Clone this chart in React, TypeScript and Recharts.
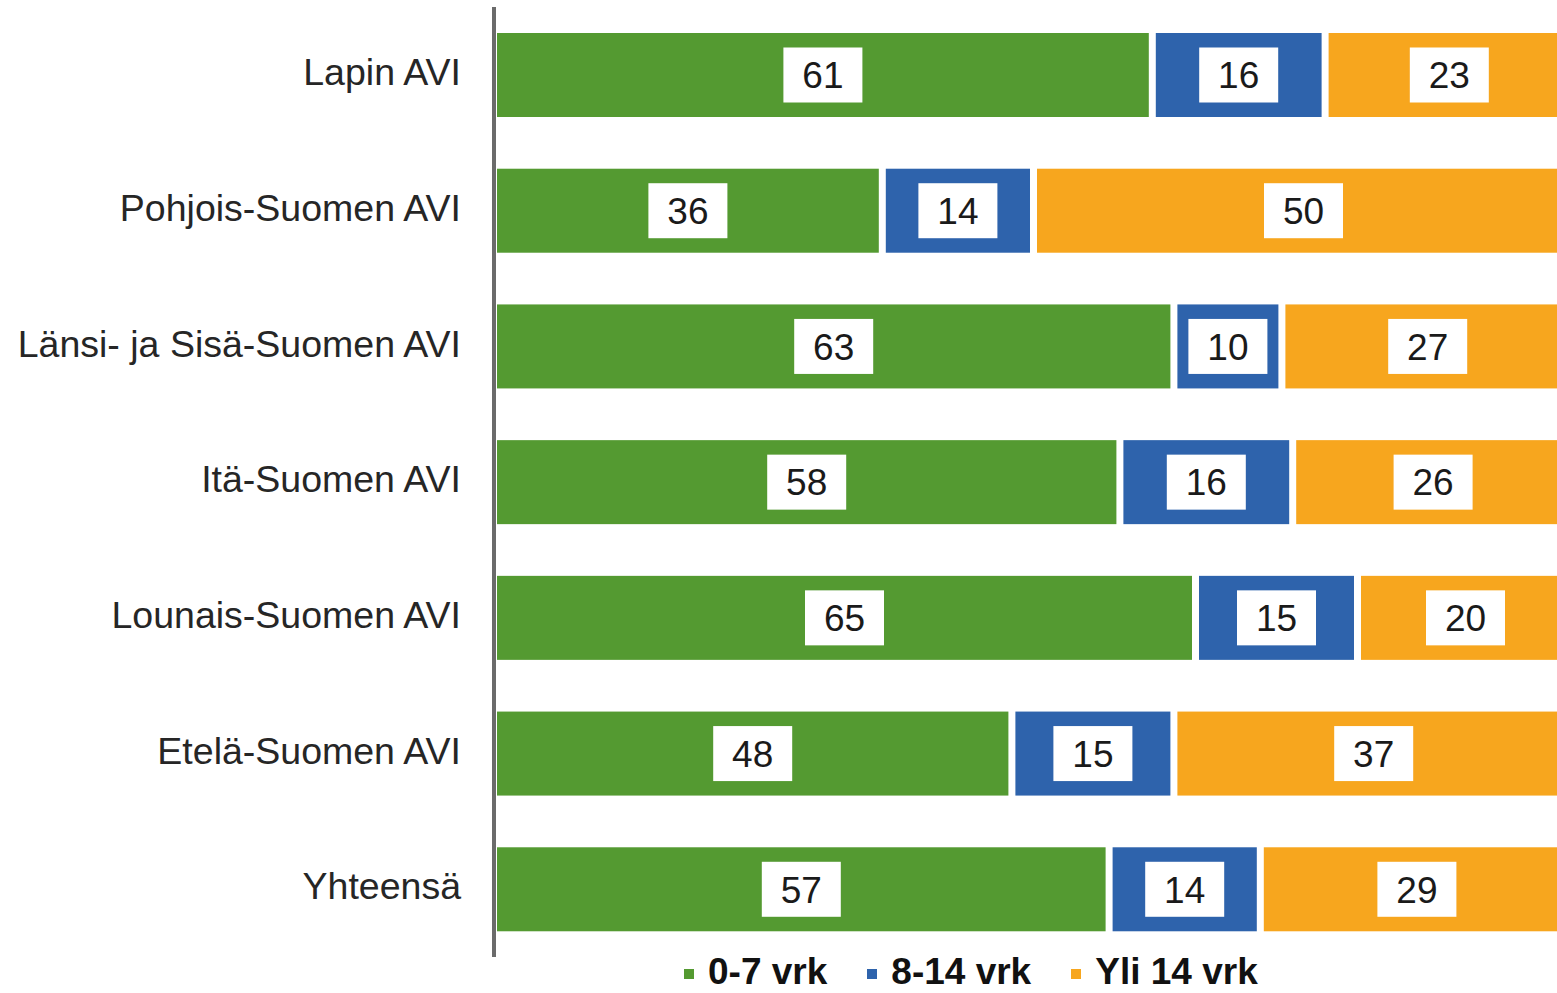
import { BarChart, Bar, XAxis, YAxis, Legend, LabelList } from "recharts";

const regions = [
  "Lapin AVI",
  "Pohjois-Suomen AVI",
  "Länsi- ja Sisä-Suomen AVI",
  "Itä-Suomen AVI",
  "Lounais-Suomen AVI",
  "Etelä-Suomen AVI",
  "Yhteensä",
];
const days0to7 = [61, 36, 63, 58, 65, 48, 57];
const days8to14 = [16, 14, 10, 16, 15, 15, 14];
const over14 = [23, 50, 27, 26, 20, 37, 29];

const series = [
  { key: "a", name: "0-7 vrk", color: "#549a31" },
  { key: "b", name: "8-14 vrk", color: "#2e63ac" },
  { key: "c", name: "Yli 14 vrk", color: "#f7a61e" },
];

const data = regions.map((region, i) => ({
  region,
  a: days0to7[i],
  b: days8to14[i],
  c: over14[i],
}));

const GAP = 7;
const FONT = "'Liberation Sans', Arial, sans-serif";

function Segment(props: any) {
  const { x, y, width, height, fill } = props;
  return <rect x={x} y={y} width={Math.max(0, width - GAP)} height={height} fill={fill} />;
}

function ValueBox(props: any) {
  const { x, y, width, height, value } = props;
  const cx = x + (width - GAP) / 2;
  const cy = y + height / 2;
  const bw = 79;
  const bh = 55;
  return (
    <g>
      <rect x={cx - bw / 2} y={cy - bh / 2} width={bw} height={bh} fill="#fff" />
      <text
        x={cx}
        y={cy}
        dy="0.36em"
        textAnchor="middle"
        fontSize={37}
        fontFamily={FONT}
        fill="#1a1a1a"
      >
        {value}
      </text>
    </g>
  );
}

function LegendContent() {
  return (
    <div
      style={{
        height: 36,
        lineHeight: "36px",
        display: "flex",
        alignItems: "center",
        fontFamily: FONT,
        fontWeight: "bold",
        fontSize: 37,
        color: "#111",
        whiteSpace: "nowrap",
      }}
    >
      {series.map((s) => (
        <div key={s.key} style={{ display: "flex", alignItems: "center", marginRight: 40 }}>
          <span
            style={{
              display: "inline-block",
              width: 10,
              height: 10,
              background: s.color,
              marginRight: 14,
              marginTop: 4,
            }}
          />
          <span>{s.name}</span>
        </div>
      ))}
    </div>
  );
}

export default function App() {
  return (
    <div
      style={{
        position: "absolute",
        left: 0,
        top: 0,
        width: 1557,
        height: 993,
        overflow: "hidden",
        background: "#fff",
      }}
    >
      <BarChart
        width={1600}
        height={993}
        data={data}
        layout="vertical"
        margin={{ top: 7, right: 23, bottom: 0, left: 0 }}
        barSize={84}
        style={{ fontFamily: FONT }}
      >
        <XAxis type="number" domain={[0, 100]} hide />
        <YAxis
          type="category"
          dataKey="region"
          width={497}
          tickLine={false}
          tickSize={0}
          tickMargin={36}
          axisLine={{ stroke: "#6b6b6b", strokeWidth: 4, transform: "translate(-3,0)" }}
          tick={{ fontSize: 37.5, fill: "#262626", fontFamily: FONT, dy: -3 }}
          interval={0}
        />
        <Legend
          verticalAlign="bottom"
          content={<LegendContent />}
          wrapperStyle={{ left: 684, bottom: 3, width: "auto" }}
        />
        {series.map((s) => (
          <Bar
            key={s.key}
            dataKey={s.key}
            name={s.name}
            stackId="total"
            fill={s.color}
            shape={<Segment />}
            isAnimationActive={false}
          >
            <LabelList dataKey={s.key} content={<ValueBox />} />
          </Bar>
        ))}
      </BarChart>
    </div>
  );
}
